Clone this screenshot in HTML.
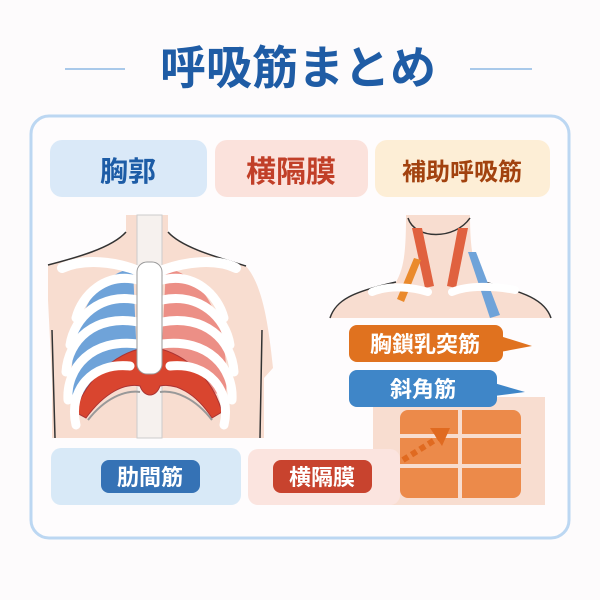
<!DOCTYPE html>
<html><head><meta charset="utf-8"><style>
body{margin:0;background:#fdfbfc;width:600px;height:600px;overflow:hidden}
svg{display:block}
text{font-family:"Liberation Sans","Noto Sans CJK JP",sans-serif;font-weight:bold}
</style></head><body>
<svg width="600" height="600" viewBox="0 0 600 600">
<rect width="600" height="600" fill="#fdfbfc"/>
<line x1="65" y1="69" x2="125" y2="69" stroke="#a9c9ea" stroke-width="2"/>
<line x1="470" y1="69" x2="532" y2="69" stroke="#a9c9ea" stroke-width="2"/>
<text x="298" y="84" font-size="46" fill="#1f5ca5" text-anchor="middle">呼吸筋まとめ</text>
<rect x="31" y="116" width="538" height="422" rx="18" fill="#fefcfd" stroke="#bcd7f2" stroke-width="3"/>
<rect x="50" y="140" width="157" height="57" rx="12" fill="#dae9f8"/>
<text x="128" y="181" font-size="28" fill="#1d5ca6" text-anchor="middle">胸郭</text>
<rect x="215" y="140" width="153" height="57" rx="12" fill="#fbe2dc"/>
<text x="291" y="182" font-size="30" fill="#c13f28" text-anchor="middle">横隔膜</text>
<rect x="375" y="140" width="175" height="57" rx="12" fill="#fdeed6"/>
<text x="462" y="180" font-size="24" fill="#a2420f" text-anchor="middle">補助呼吸筋</text>
<!-- torso -->
<path d="M48,265 C75,258 112,248 126,232 L126,215 L168,215 L168,232 C182,248 220,258 246,266 C262,285 268,320 273,368 L264,378 L264,438 L52,438 L52,380 L48,300 Z" fill="#f8ddd0"/>
<path d="M48,265 C75,258 112,248 126,232 M168,232 C182,248 220,258 246,266" fill="none" stroke="#333" stroke-width="1.5"/>
<path d="M52,330 L55,438 M262,330 L260,438" stroke="#333" stroke-width="1.5" fill="none"/>
<rect x="137" y="215" width="25" height="223" fill="#f6f1ee" stroke="#ccc"/>
<!-- lungs -->
<path d="M133,268 C95,275 68,320 72,395 L138,385 Z" fill="#6fa3d9"/>
<path d="M166,268 C204,275 230,320 226,395 L160,385 Z" fill="#ec8f86"/>
<!-- diaphragm band -->
<path d="M75,412 C88,375 120,350 150,347 C180,350 212,375 222,412 L212,418 C195,392 175,383 160,386 C156,398 144,398 140,386 C125,383 105,392 86,418 Z" fill="#d9452f" stroke="#a33" stroke-width="1"/>
<path d="M88,420 C105,398 125,390 140,392 M160,392 C175,390 195,398 212,420" fill="none" stroke="#999" stroke-width="2"/>
<!-- ribs -->
<g fill="none" stroke="#fff" stroke-width="9" stroke-linecap="round">
<path d="M138,280 C105,272 82,295 76,318"/><path d="M138,300 C100,292 74,318 70,345"/>
<path d="M138,322 C95,314 68,340 66,372"/><path d="M138,344 C92,338 66,368 68,400"/>
<path d="M130,366 C92,362 68,390 76,425"/>
<path d="M162,280 C195,272 218,295 224,318"/><path d="M162,300 C200,292 226,318 230,345"/>
<path d="M162,322 C205,314 232,340 234,372"/><path d="M162,344 C208,338 234,368 232,400"/>
<path d="M170,366 C208,362 232,390 224,425"/>
</g>
<path d="M62,268 C85,258 115,262 136,270 M163,270 C185,262 215,258 236,268" stroke="#fff" stroke-width="10" stroke-linecap="round" fill="none"/>
<rect x="137" y="262" width="25" height="112" rx="10" fill="#fff" stroke="#999"/>
<!-- neck figure -->
<path d="M330,318 C336,300 352,292 396,282 C404,268 406,252 406,215 L470,215 C470,252 474,270 484,282 C525,292 545,300 551,318 Z" fill="#f8ddd0"/>
<path d="M330,318 C336,300 352,292 396,282 M484,282 C525,292 545,300 551,318" fill="none" stroke="#333" stroke-width="1.5"/>
<path d="M408,218 C415,240 455,240 470,218" fill="none" stroke="#333" stroke-width="1.5"/>
<path d="M412,228 L422,228 L434,286 L425,288 Z" fill="#e0613f"/>
<path d="M468,228 L458,228 L447,286 L456,288 Z" fill="#e0613f"/>
<path d="M414,258 L421,260 L404,302 L397,299 Z" fill="#ea8a2c"/>
<path d="M468,252 L476,252 L500,315 L490,318 Z" fill="#6fa3d9"/>
<path d="M372,292 C392,284 415,288 428,292 M452,292 C468,285 495,286 515,290" stroke="#fff" stroke-width="8" stroke-linecap="round" fill="none"/>
<!-- abdomen -->
<rect x="373" y="397" width="172" height="108" fill="#f8ddd0"/>
<rect x="400" y="410" width="121" height="88" rx="8" fill="#ec8a4a"/>
<g stroke="#f8ddd0" stroke-width="4"><line x1="460" y1="410" x2="460" y2="498"/><line x1="400" y1="436" x2="521" y2="436"/><line x1="400" y1="466" x2="521" y2="466"/></g>
<path d="M403,460 L438,438" stroke="#e06a20" stroke-width="6" stroke-dasharray="6,4"/>
<path d="M430,428 L450,428 L442,446 Z" fill="#e06a20"/>
<!-- labels -->
<path d="M500,336 L532,346 L500,352 Z" fill="#e0721f"/>
<rect x="349" y="325" width="154" height="37" rx="8" fill="#e0721f"/>
<text x="425" y="352" font-size="22" fill="#fff" text-anchor="middle">胸鎖乳突筋</text>
<path d="M494,383 L525,392 L494,396 Z" fill="#3f86c8"/>
<rect x="349" y="370" width="148" height="37" rx="8" fill="#3f86c8"/>
<text x="423" y="397" font-size="22" fill="#fff" text-anchor="middle">斜角筋</text>
<rect x="51" y="448" width="190" height="57" rx="10" fill="#d8e9f7"/>
<rect x="101" y="460" width="99" height="33" rx="8" fill="#3572b5"/>
<text x="150" y="485" font-size="22" fill="#fff" text-anchor="middle">肋間筋</text>
<rect x="248" y="449" width="152" height="56" rx="10" fill="#fbe4df"/>
<rect x="273" y="460" width="99" height="33" rx="8" fill="#c8432e"/>
<text x="322" y="485" font-size="22" fill="#fff" text-anchor="middle">横隔膜</text>
</svg>
</body></html>
